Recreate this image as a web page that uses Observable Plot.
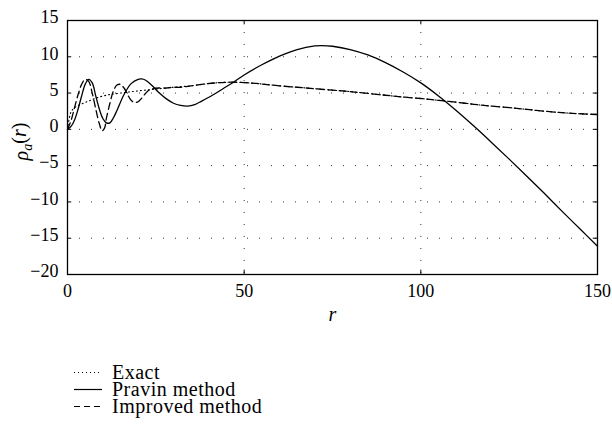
<!DOCTYPE html>
<html>
<head>
<meta charset="utf-8">
<script src="https://cdn.jsdelivr.net/npm/d3@7"></script>
<script src="https://cdn.jsdelivr.net/npm/@observablehq/plot@0.6"></script>
</head>
<body style="margin:0;padding:0;background:#fff">
<div id="wrap" style="position:relative;width:612px;height:427px;font-family:'Liberation Serif'"></div>
<script>
// ---- data ----
const xTicks = [0, 50, 100, 150];
const yTicks = [-20, -15, -10, -5, 0, 5, 10, 15];

const pravinR = [0,1,2,3,4,5,6,7,8,9,10,11,12,13,14,16,18,20,21,22,24,26,28,30,32,34,36,38,41,44,47,50,55,60,65,70,72,75,80,85,90,95,100,105,110,115,120,125,130,135,140,145,150];
const pravinY = [0,0.4,1.3,2.8,4.6,6.2,6.9,6.4,4.6,2.8,1.5,0.9,0.9,1.6,2.6,4.8,6.3,6.9,6.95,6.8,6.0,5.0,4.2,3.6,3.3,3.2,3.4,3.9,4.7,5.6,6.5,7.5,8.9,10.1,11.0,11.5,11.55,11.45,11.0,10.25,9.2,7.9,6.4,4.6,2.6,0.45,-1.8,-4.1,-6.45,-8.85,-11.3,-13.7,-16.1];

const improvedR = [0,1,2,3,4,5,6,7,8,9,9.8,10.5,11,12,13,14,15,16,17,18,19,20,21,22,23,24,26,28,30,32,35,38,42,46,50,55,60,65,70,75,80,85,90,95,100,105,110,115,120,125,130,135,140,145,150];
const improvedY = [0,1.2,3.0,4.8,6.2,6.9,6.6,5.0,2.8,0.8,-0.2,0.2,1.5,3.6,5.3,6.1,6.2,5.7,4.8,4.0,3.7,3.8,4.3,4.9,5.4,5.6,5.7,5.7,5.8,5.8,6.0,6.2,6.4,6.5,6.45,6.25,6.0,5.8,5.6,5.4,5.2,4.95,4.7,4.45,4.25,4.0,3.75,3.45,3.2,3.0,2.75,2.5,2.3,2.15,2.05];

const exactR = [0,0.5,1,2,4,6,8,11,15,20,25,30,35,38,42,46,50,55,60,65,70,75,80,85,90,95,100,105,110,115,120,125,130,135,140,145,150];
const exactY = [0,1.5,2.4,3.0,3.5,3.9,4.3,4.7,5.0,5.3,5.55,5.8,6.0,6.2,6.4,6.5,6.45,6.25,6.0,5.8,5.6,5.4,5.2,4.95,4.7,4.45,4.25,4.0,3.75,3.45,3.2,3.0,2.75,2.5,2.3,2.15,2.05];

const seriesNames = ["Exact", "Pravin method", "Improved method"];
const seriesDash = ["1,3", null, "7,4"];

const toRows = (rs, ys) => rs.map((r, i) => ({r, y: ys[i]}));
const exact = toRows(exactR, exactY);
const pravin = toRows(pravinR, pravinY);
const improved = toRows(improvedR, improvedY);

const xMin = xTicks[0], xMax = xTicks[xTicks.length - 1];
const yMin = yTicks[0], yMax = yTicks[yTicks.length - 1];
const tickLenX = 1.2, tickLenY = 0.6;
const fmt = d => d < 0 ? "\u2212" + Math.abs(d) : String(d);
const FONT = "Liberation Serif";

const chart = Plot.plot({
  width: 612,
  height: 330,
  marginLeft: 67,
  marginRight: 15,
  marginTop: 20,
  marginBottom: 56,
  x: {domain: [xMin, xMax]},
  y: {domain: [yMin, yMax]},
  marks: [
    Plot.gridX(xTicks.slice(1, -1), {stroke: "#000", strokeOpacity: 0.8, strokeDasharray: "1,11"}),
    Plot.gridY(yTicks.slice(1, -1), {stroke: "#000", strokeOpacity: 0.8, strokeDasharray: "1,11"}),
    Plot.line(exact, {x: "r", y: "y", stroke: "#000", strokeWidth: 1.1, strokeDasharray: seriesDash[0], curve: "catmull-rom"}),
    Plot.line(improved, {x: "r", y: "y", stroke: "#000", strokeWidth: 1.3, strokeDasharray: seriesDash[2], curve: "catmull-rom"}),
    Plot.line(pravin, {x: "r", y: "y", stroke: "#000", strokeWidth: 1.3, curve: "catmull-rom"}),
    // inward tick marks on all four sides
    Plot.ruleX(xTicks, {y1: yMin, y2: yMin + tickLenY, stroke: "#000"}),
    Plot.ruleX(xTicks, {y1: yMax, y2: yMax - tickLenY, stroke: "#000"}),
    Plot.ruleY(yTicks, {x1: xMin, x2: xMin + tickLenX, stroke: "#000"}),
    Plot.ruleY(yTicks, {x1: xMax, x2: xMax - tickLenX, stroke: "#000"}),
    Plot.frame({stroke: "#000", strokeWidth: 1.3}),
    Plot.axisX(xTicks, {tickSize: 0, tickPadding: 10, tickFormat: fmt, label: null, fontSize: 18}),
    Plot.axisY(yTicks, {tickSize: 0, tickPadding: 9, tickFormat: fmt, label: null, fontSize: 18, dy: -3}),
    Plot.text(["r"], {frameAnchor: "bottom", dy: 46, fontStyle: "italic", fontSize: 20, text: d => d}),
    Plot.text(["ρa(r)"], {frameAnchor: "left", dx: -46, rotate: -90, fontSize: 20, text: d => d})
  ]
});

document.getElementById("wrap").appendChild(chart);

// serif face on every text element
chart.setAttribute("font-family", FONT);
chart.style.fontFamily = FONT;
d3.select(chart).selectAll("g").each(function() {
  if (this.hasAttribute("font-family")) this.setAttribute("font-family", FONT);
});
d3.select(chart).selectAll("text").attr("font-family", FONT).style("font-family", FONT);

// subscript in y label, then centre it where the reference has it
d3.select(chart).selectAll("text").each(function() {
  if (this.textContent === "ρa(r)") {
    const t = d3.select(this);
    t.text(null);
    t.append("tspan").attr("font-style", "italic").text("ρ");
    t.append("tspan").attr("font-style", "italic").attr("font-size", "14px").attr("dy", "0.3em").text("a");
    t.append("tspan").attr("dy", "-0.3em").text("(");
    t.append("tspan").attr("font-style", "italic").text("r");
    t.append("tspan").text(")");
    const bb = this.getBoundingClientRect();
    const targetCy = 142;
    const shift = targetCy - (bb.top + bb.height / 2);
    const tr = this.getAttribute("transform") || "";
    this.setAttribute("transform", `translate(0,${shift.toFixed(1)}) ${tr}`);
  }
});

// legend below the chart
const wrap = document.getElementById("wrap");
const rowTops = [364, 381, 398];
seriesNames.forEach((name, i) => {
  const row = document.createElement("div");
  row.setAttribute("style", `position:absolute;left:74px;top:${rowTops[i]}px;height:17px;display:flex;align-items:center;font-family:'Liberation Serif';font-size:20px;line-height:17px;letter-spacing:0.5px;color:#000;white-space:nowrap`);
  const dash = seriesDash[i] ? ` stroke-dasharray="${seriesDash[i] === "7,4" ? "6,4" : seriesDash[i]}"` : "";
  row.innerHTML = `<svg width="28" height="17" style="margin-right:10px"><line x1="0" x2="28" y1="8.5" y2="8.5" stroke="#000" stroke-width="1.2"${dash}/></svg><span style="font-family:'Liberation Serif'">${name}</span>`;
  wrap.appendChild(row);
});
</script>
</body>
</html>
